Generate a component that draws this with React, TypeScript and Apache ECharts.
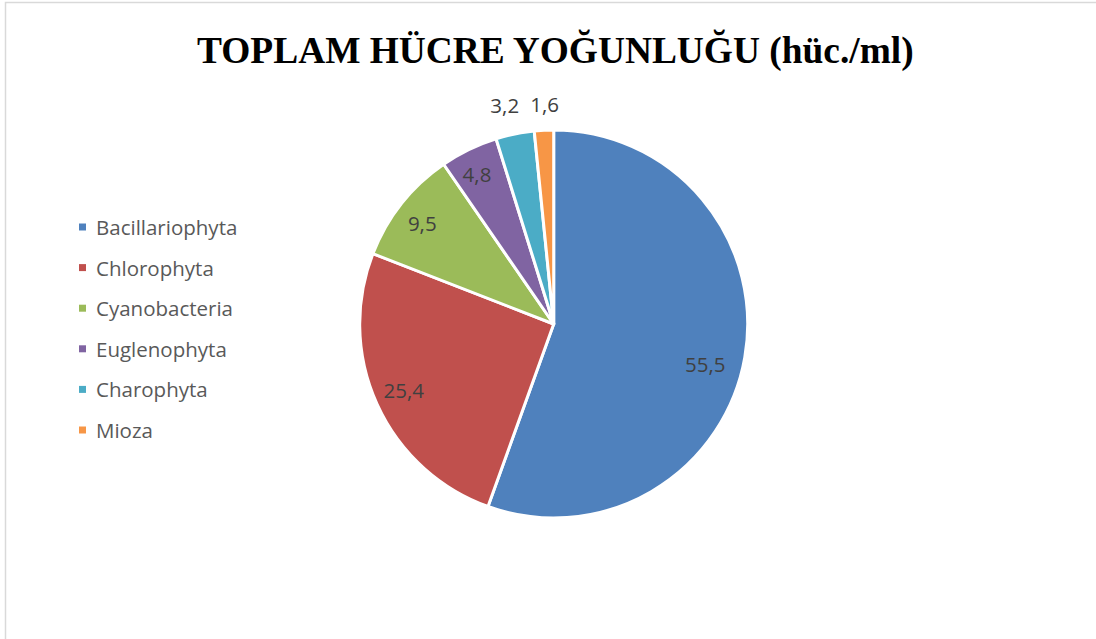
import React, { useEffect, useRef } from "react";
import * as echarts from "echarts";

const categories = ["Bacillariophyta", "Chlorophyta", "Cyanobacteria", "Euglenophyta", "Charophyta", "Mioza"];
const values = [55.5, 25.4, 9.5, 4.8, 3.2, 1.6];
const colors = ["#4F81BD", "#C0504D", "#9BBB59", "#8064A2", "#4BACC6", "#F79646"];
const titleText = "TOPLAM HÜCRE YOĞUNLUĞU (hüc./ml)";
// label offsets from the default inside position (layout only)
const labelOffsets = [
  [53, 23],
  [-59, 25],
  [-53, -39],
  [-33, -60],
  [-29, -121],
  [-4, -120],
];

export default function App() {
  const ref = useRef<HTMLDivElement>(null);
  useEffect(() => {
    if (!ref.current) return;
    const chart = echarts.init(ref.current, undefined, { renderer: "svg" });
    chart.setOption({
      animation: false,
      backgroundColor: "#ffffff",
      title: {
        text: titleText,
        left: 192,
        top: 27,
        textStyle: {
          fontFamily: "Liberation Serif",
          fontWeight: "bold",
          fontSize: 37.4,
          color: "#000000",
        },
      },
      legend: {
        orient: "vertical",
        left: 79,
        top: 216,
        padding: 0,
        icon: "rect",
        itemWidth: 7,
        itemHeight: 7,
        itemGap: 18.6,
        itemStyle: { borderWidth: 0 },
        data: categories,
        textStyle: {
          fontFamily: "Open Sans",
          fontSize: 20.5,
          color: "#595959",
          lineHeight: 22,
          padding: [0, 0, 0, 5],
        },
      },
      graphic: [
        {
          type: "rect",
          shape: { x: 5.5, y: 2.5, width: 1200, height: 1000 },
          style: { fill: "none", stroke: "#d9d9d9", lineWidth: 1.5 },
          silent: true,
        },
      ],
      series: [
        {
          type: "pie",
          center: [553.7, 324],
          radius: [0, 194],
          startAngle: 90,
          clockwise: true,
          avoidLabelOverlap: false,
          itemStyle: { borderColor: "#ffffff", borderWidth: 3 },
          label: {
            show: true,
            position: "inside",
            formatter: (p: any) => String(p.value).replace(".", ","),
            fontFamily: "Open Sans",
            fontSize: 20.5,
            color: "#404040",
          },
          labelLine: { show: false },
          labelLayout: (p: any) => {
            const o = labelOffsets[p.dataIndex] || [0, 0];
            return { dx: o[0], dy: o[1] };
          },
          emphasis: { disabled: true },
          data: categories.map((c, i) => ({
            name: c,
            value: values[i],
            itemStyle: { color: colors[i] },
          })),
        },
      ],
    });
    return () => chart.dispose();
  }, []);
  return (
    <div
      ref={ref}
      style={{ position: "fixed", left: 0, top: 0, width: 1096, height: 639 }}
    />
  );
}
